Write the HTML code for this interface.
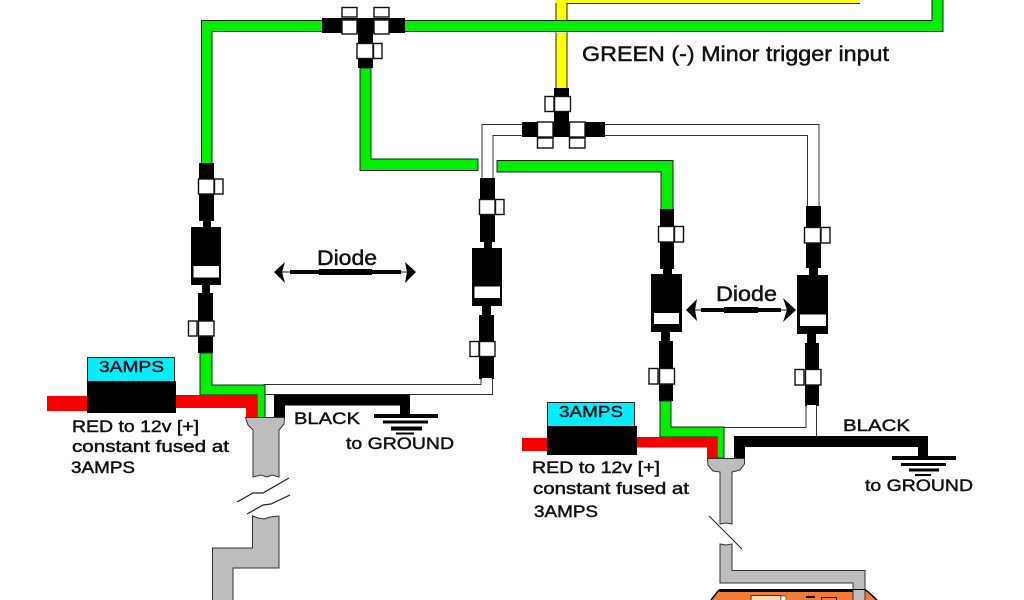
<!DOCTYPE html>
<html><head><meta charset="utf-8"><style>
html,body{margin:0;padding:0;background:#fff;width:1024px;height:600px;overflow:hidden}
svg{display:block;filter:blur(.35px)}
text{font-family:"Liberation Sans",sans-serif;fill:#111;stroke:#111;stroke-width:.45}
.w{fill:#fff;stroke:#111;stroke-width:1.4}
.k{fill:#000}
.g{fill:#00f000;stroke:#222;stroke-width:1}
.y{fill:#ffff00;stroke:#222;stroke-width:1}
.r{fill:#f80000}
.a{fill:#bdbdbd;stroke:#333;stroke-width:1}
.wl{fill:#fff;stroke:#333;stroke-width:1}
</style></head><body>
<svg width="1024" height="600" viewBox="0 0 1024 600" xmlns="http://www.w3.org/2000/svg">
<rect width="1024" height="600" fill="#fff"/>

<!-- yellow wire -->
<path class="y" d="M556 90V-2H900V3.500H567V90Z"/>
<rect x="555" y="0" width="12" height="3" fill="#ffff00"/>
<rect x="567" y="0" width="293" height="3" fill="#ffff00"/>
<rect x="860" y="0" width="100" height="4" fill="#fff"/>
<!-- top green -->
<path class="g" d="M201.500 165V20.500H932V-2H943V31.500H212V165Z"/>
<rect x="556" y="32" width="11" height="1" fill="#fff"/>
<!-- green lower -->
<path class="g" d="M360 68H371V159H478V170.500H360Z"/>
<path class="g" d="M497 160.500H673V212H661V172H497Z"/>
<!-- white wires -->
<path class="wl" d="M482 182V124.500H525V135.500H493V182Z"/>
<path class="wl" d="M600 124.500H819V210H807.500V135.500H600Z"/>

<!-- T1 -->
<rect class="k" x="322" y="18" width="83" height="15"/>
<rect class="k" x="358" y="18" width="15" height="50"/>
<rect class="w" x="342" y="20" width="15" height="14"/><rect class="w" x="342" y="7.500" width="15" height="9.500"/>
<rect class="w" x="374" y="20" width="15" height="14"/><rect class="w" x="374" y="7.500" width="15" height="9.500"/>
<rect class="w" x="357" y="43.500" width="16" height="15"/><rect class="w" x="373.500" y="43.500" width="8.500" height="15"/>

<!-- T2 -->
<rect class="k" x="522" y="122" width="83" height="15"/>
<rect class="k" x="554" y="88" width="15" height="49"/>
<rect class="w" x="554.500" y="96.500" width="16" height="15"/><rect class="w" x="545" y="96.500" width="9" height="15"/>
<rect class="w" x="537.500" y="122" width="15.500" height="15"/><rect class="w" x="537.500" y="138" width="15.500" height="10"/>
<rect class="w" x="569.500" y="122" width="15.500" height="15"/><rect class="w" x="569.500" y="138" width="15.500" height="10"/>

<!-- Diode column 1 -->
<rect class="k" x="199" y="163" width="15" height="58"/><rect class="k" x="203" y="221" width="8" height="7"/>
<rect class="k" x="191" y="227" width="30" height="58"/><rect x="193.500" y="266" width="25.500" height="11.500" fill="#fff"/>
<rect class="k" x="202" y="285" width="8" height="9"/><rect class="k" x="198" y="293" width="15" height="60"/>
<rect class="w" x="198.500" y="179" width="15.500" height="15"/><rect class="w" x="214.500" y="179" width="8.500" height="15"/>
<rect class="w" x="198.500" y="321" width="15.500" height="15"/><rect class="w" x="188.500" y="321" width="8.500" height="15"/>

<!-- Diode column 2 -->
<rect class="k" x="480" y="178" width="15" height="64"/><rect class="k" x="484" y="242" width="8" height="7"/>
<rect class="k" x="472" y="248" width="30" height="58"/><rect x="474.500" y="286.500" width="25.500" height="11.500" fill="#fff"/>
<rect class="k" x="482" y="306" width="9" height="10"/><rect class="k" x="479" y="315" width="15" height="64"/>
<rect class="w" x="479.500" y="199.500" width="15.500" height="15"/><rect class="w" x="495.500" y="199.500" width="8.500" height="15"/>
<rect class="w" x="479.500" y="341.500" width="15.500" height="15"/><rect class="w" x="470" y="341.500" width="9" height="15"/>

<!-- Diode column 3 -->
<rect class="k" x="660" y="209" width="14" height="60"/><rect class="k" x="663" y="268" width="9" height="7"/>
<rect class="k" x="651" y="274" width="31" height="58"/><rect x="654" y="313" width="25" height="11" fill="#fff"/>
<rect class="k" x="661" y="332" width="9" height="10"/><rect class="k" x="659" y="341" width="14" height="60"/>
<rect class="w" x="658.500" y="226.500" width="15.500" height="15.500"/><rect class="w" x="674.500" y="226.500" width="9" height="15.500"/>
<rect class="w" x="659.500" y="368.500" width="15" height="15.500"/><rect class="w" x="649" y="368.500" width="9" height="15.500"/>

<!-- Diode column 4 -->
<rect class="k" x="806" y="206" width="15" height="62"/><rect class="k" x="809" y="268" width="9" height="8"/>
<rect class="k" x="797" y="275" width="31" height="59"/><rect x="800" y="314.500" width="26" height="11.500" fill="#fff"/>
<rect class="k" x="807" y="334" width="9" height="10"/><rect class="k" x="805" y="343" width="14" height="63"/>
<rect class="w" x="804.500" y="227.500" width="16" height="15.500"/><rect class="w" x="821" y="227.500" width="9" height="15.500"/>
<rect class="w" x="805.500" y="369.500" width="15.500" height="15.500"/><rect class="w" x="795" y="369.500" width="9" height="15.500"/>

<!-- Diode symbols -->
<text x="317" y="265" font-size="21" textLength="60" lengthAdjust="spacingAndGlyphs">Diode</text>
<line x1="280" y1="272" x2="410" y2="272" stroke="#111" stroke-width="1"/>
<rect class="k" x="290" y="270" width="111" height="4"/><rect class="k" x="319" y="269" width="53" height="6"/>
<path class="k" d="M274 272L285 262L282 272L285 283Z"/><path class="k" d="M416 272L405 262L407 272L405 283Z"/>
<text x="716" y="301" font-size="21" textLength="61" lengthAdjust="spacingAndGlyphs">Diode</text>
<line x1="692" y1="310" x2="790" y2="310" stroke="#111" stroke-width="1"/>
<rect class="k" x="701" y="308" width="80" height="4"/><rect class="k" x="724" y="307" width="34" height="6"/>
<path class="k" d="M686 310L697 299L695 310L697 321Z"/><path class="k" d="M796 310L783 298L787 310L783 322Z"/>

<!-- Left harness -->
<path class="wl" d="M264 384.500H481V379H492.500V394.500H264Z"/>
<rect x="482" y="378" width="10" height="16" fill="#fff"/>
<path class="g" d="M200 353H212V385H265V418H257V395H200Z"/>
<rect class="r" x="47" y="396" width="42" height="15"/>
<path class="r" d="M175 395H257V418H246V408H175Z"/>
<rect x="87.500" y="357.500" width="87" height="24" fill="#00eeff" stroke="#222" stroke-width="1"/>
<rect class="k" x="87" y="381" width="89" height="32"/>
<path class="k" d="M274 394.500H410V415H400V405.500H285V418H274Z"/>
<rect class="k" x="374" y="414" width="64" height="4"/><rect class="k" x="383" y="420.500" width="45" height="3"/>
<rect class="k" x="391" y="426.500" width="31" height="4"/><rect class="k" x="396" y="432.500" width="18" height="2"/>
<path class="a" d="M245.500 417.500H284.500L284 424L279 430V477L272 475L267 477L261 475L253 477V430L248 425Z"/>
<path class="a" d="M252.500 516L258 518L264 519L270 517L279 516V568H233V600.500H212.500V548H252.500Z"/>
<path d="M237 502L253 493L263 493L289 478" fill="none" stroke="#222" stroke-width="1.200"/>
<path d="M247 514L263 505L271 504L290 495" fill="none" stroke="#222" stroke-width="1.200"/>

<!-- Right harness -->
<path class="wl" d="M724 427.500H806V406H816.500V436.500H724Z"/>
<rect x="807" y="405" width="9" height="32" fill="#fff"/>
<rect x="724" y="428" width="83" height="9" fill="#fff"/>
<path class="g" d="M660 401H671V427H724V458H717V437H660Z"/>
<rect class="r" x="522" y="438" width="27" height="13"/>
<path class="r" d="M636 437H717V458H707V447.500H636Z"/>
<rect x="547.500" y="402.500" width="87" height="24.500" fill="#00eeff" stroke="#222" stroke-width="1"/>
<rect class="k" x="547" y="426" width="90" height="29"/>
<path class="k" d="M734 436H928V457H918V447H745V458H734Z"/>
<rect class="k" x="892" y="456" width="64" height="4"/><rect class="k" x="901" y="463" width="45" height="3"/>
<rect class="k" x="909" y="468.500" width="30" height="3"/><rect class="k" x="915" y="474" width="16" height="2"/>
<path class="a" d="M707.500 458.500H744.500V464L740 470L732 472V524L726 523L720 524V472L713 471L708 465Z"/>
<path class="a" d="M720 544L726 545L732 544V570.500H865V600.500H853V583H720Z"/>
<line x1="709" y1="516" x2="742" y2="549" stroke="#222" stroke-width="1"/>
<rect x="720" y="583.500" width="133" height="6.500" fill="#fff"/>
<line x1="853" y1="583" x2="853" y2="590" stroke="#333"/>

<!-- Orange device -->
<path d="M719 590H866L878 601H710Z" fill="#f47a36"/>
<path d="M719 590.500H866" stroke="#000" stroke-width="3" fill="none"/>
<path d="M719 590L711 600M866 590L877 600" stroke="#000" stroke-width="1.500" fill="none"/>
<rect x="853" y="590" width="12" height="11" fill="#bdbdbd"/>
<path d="M853 590V601M865 590V601" stroke="#333"/>
<rect x="751" y="595.500" width="30" height="6" fill="#fbd9b0" stroke="#7a1a00"/>
<rect x="781" y="596" width="5" height="5" fill="#fff" stroke="#333" stroke-width=".6"/>
<rect class="k" x="806" y="596" width="9" height="2"/>
<rect x="821.500" y="597.500" width="15" height="4" fill="none" stroke="#222"/>

<!-- Labels -->
<text x="582" y="61" font-size="21" textLength="307" lengthAdjust="spacingAndGlyphs">GREEN (-) Minor trigger input</text>
<text x="99" y="372" font-size="16" textLength="65" lengthAdjust="spacingAndGlyphs">3AMPS</text>
<text x="559" y="417" font-size="16" textLength="64" lengthAdjust="spacingAndGlyphs">3AMPS</text>
<text x="72" y="432" font-size="16.500" textLength="127" lengthAdjust="spacingAndGlyphs">RED to 12v [+]</text>
<text x="72" y="452" font-size="16.500" textLength="157" lengthAdjust="spacingAndGlyphs">constant fused at</text>
<text x="71" y="473" font-size="16.500" textLength="64" lengthAdjust="spacingAndGlyphs">3AMPS</text>
<text x="532" y="473" font-size="16.500" textLength="128" lengthAdjust="spacingAndGlyphs">RED to 12v [+]</text>
<text x="533" y="494" font-size="16.500" textLength="156" lengthAdjust="spacingAndGlyphs">constant fused at</text>
<text x="534" y="517" font-size="16.500" textLength="64" lengthAdjust="spacingAndGlyphs">3AMPS</text>
<text x="294" y="424" font-size="17" textLength="66" lengthAdjust="spacingAndGlyphs">BLACK</text>
<text x="346" y="449" font-size="17" textLength="108" lengthAdjust="spacingAndGlyphs">to GROUND</text>
<text x="843" y="431" font-size="17" textLength="67" lengthAdjust="spacingAndGlyphs">BLACK</text>
<text x="865" y="491" font-size="17" textLength="108" lengthAdjust="spacingAndGlyphs">to GROUND</text>
</svg>
</body></html>
